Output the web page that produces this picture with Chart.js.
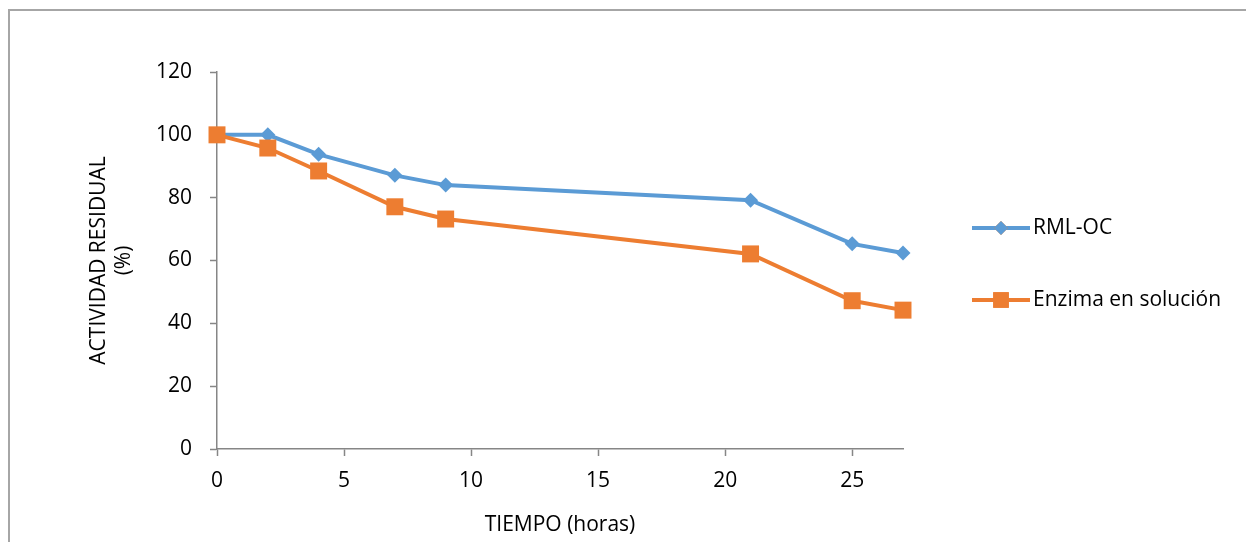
<!DOCTYPE html>
<html>
<head>
<meta charset="utf-8">
<script src="https://cdn.jsdelivr.net/npm/chart.js@4.4.1/dist/chart.umd.min.js"></script>
<style>
  html, body { margin: 0; padding: 0; background: #fff; }
  #wrap { position: relative; width: 1246px; height: 542px; overflow: hidden; }
  #frame { position: absolute; left: 8px; top: 9px; right: -10px; bottom: -10px;
           border-top: 2px solid #a6a6a6; border-left: 2px solid #a6a6a6; }
  canvas { position: absolute; left: 0; top: 0; }
</style>
</head>
<body>
<div id="wrap">
  <div id="frame"></div>
  <canvas id="actividadChart" width="1246" height="542"></canvas>
</div>
<script>
const horas = [0, 2, 4, 7, 9, 21, 25, 27];
const rmlOc = [100, 100, 93.8, 87.1, 84.0, 79.2, 65.3, 62.4];
const enzimaSolucion = [100, 95.8, 88.5, 77.1, 73.2, 62.1, 47.2, 44.2];
const seriesLabels = ['RML-OC', 'Enzima en solución'];
const yTitle = ['ACTIVIDAD RESIDUAL', '(%)'];
const xTitle = 'TIEMPO (horas)';

const AZUL = '#5b9bd5';
const NARANJA = '#ed7d31';
const EJE = '#868686';
const FONT = '"Open Sans", sans-serif';
const SIZE = 21;

function toPoints(xs, ys) {
    return xs.map((x, i) => ({ x, y: ys[i] }));
}

// legend drawn by hand: line segment with the marker in the middle
const sideLegend = {
    id: 'sideLegend',
    afterDraw(chart) {
        const ctx = chart.ctx;
        const rows = [228, 300];
        chart.data.datasets.forEach((ds, i) => {
            const y = rows[i];
            const x0 = 972, x1 = 1030;
            ctx.save();
            ctx.strokeStyle = ds.borderColor;
            ctx.lineWidth = 4;
            ctx.beginPath();
            ctx.moveTo(x0, y);
            ctx.lineTo(x1, y);
            ctx.stroke();
            Chart.helpers.drawPoint(ctx, {
                pointStyle: ds.pointStyle,
                radius: ds.pointStyle === 'rect' ? 11 : 7,
                borderWidth: 0
            }, (x0 + x1) / 2, y);
            ctx.fillStyle = ds.backgroundColor;
            ctx.fill();
            ctx.fillStyle = '#000';
            ctx.font = SIZE + 'px ' + FONT;
            ctx.textBaseline = 'middle';
            ctx.fillText(ds.label, x1 + 3, y);
            ctx.restore();
        });
    }
};

const axisGrid = {
    display: true,
    drawOnChartArea: false,
    drawTicks: true,
    tickLength: 7,
    tickColor: EJE,
    tickWidth: 1.5,
};

new Chart(document.getElementById('actividadChart').getContext('2d'), {
    type: 'line',
    data: {
        datasets: [
            {
                label: seriesLabels[0],
                data: toPoints(horas, rmlOc),
                borderColor: AZUL,
                backgroundColor: AZUL,
                borderWidth: 4,
                pointStyle: 'rectRot',
                pointRadius: 7.5,
                pointBorderWidth: 0,
                clip: false,
                order: 2,
            },
            {
                label: seriesLabels[1],
                data: toPoints(horas, enzimaSolucion),
                borderColor: NARANJA,
                backgroundColor: NARANJA,
                borderWidth: 4,
                pointStyle: 'rect',
                pointRadius: 12,
                pointBorderWidth: 0,
                clip: false,
                order: 1,
            },
        ],
    },
    options: {
        responsive: false,
        animation: false,
        layout: { padding: { left: 0, top: 72, right: 343, bottom: 0 } },
        plugins: {
            legend: { display: false },
            tooltip: { enabled: false },
        },
        scales: {
            x: {
                type: 'linear',
                min: 0,
                max: 27,
                grid: axisGrid,
                border: { color: EJE, width: 1.5 },
                ticks: {
                    stepSize: 5,
                    includeBounds: false,
                    color: '#000',
                    font: { family: FONT, size: SIZE },
                    padding: 12,
                },
                title: {
                    display: true,
                    text: xTitle,
                    color: '#000',
                    font: { family: FONT, size: SIZE },
                    padding: { top: 14 },
                },
                afterFit(scale) { scale.height = 93; },
            },
            y: {
                min: 0,
                max: 120,
                grid: axisGrid,
                border: { color: EJE, width: 1.5 },
                ticks: {
                    stepSize: 20,
                    color: '#000',
                    font: { family: FONT, size: SIZE },
                    padding: 18,
                },
                title: {
                    display: true,
                    text: yTitle,
                    color: '#000',
                    font: { family: FONT, size: SIZE },
                    padding: { top: 86, bottom: 0 },
                },
                afterFit(scale) { scale.width = 217; },
            },
        },
    },
    plugins: [sideLegend],
});
</script>
</body>
</html>
